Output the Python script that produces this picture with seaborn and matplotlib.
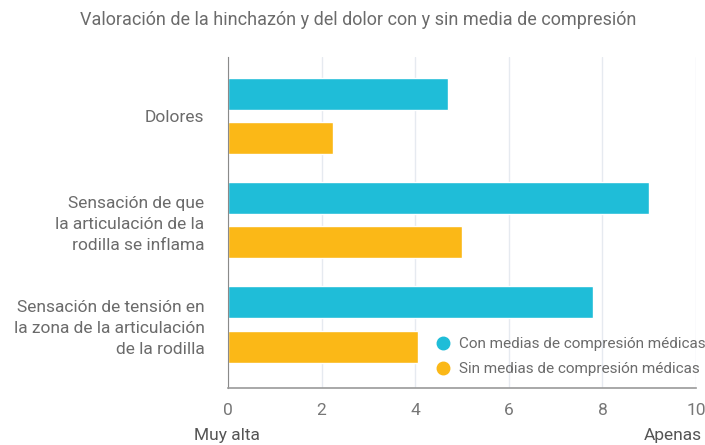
import pandas as pd
import matplotlib.pyplot as plt
import seaborn as sns

# Data
categories = [
    'Dolores',
    'Sensación de que\nla articulación de la\nrodilla se inflama',
    'Sensación de tensión en\nla zona de la articulación\nde la rodilla',
]
series_names = ['Con medias de compresión médicas', 'Sin medias de compresión médicas']
con_medias = [4.7, 9.0, 7.8]
sin_medias = [2.25, 5.0, 4.05]
x_ticks = [0, 2, 4, 6, 8, 10]

df = pd.DataFrame({
    'categoria': categories * 2,
    'grupo': [series_names[0]] * 3 + [series_names[1]] * 3,
    'valor': con_medias + sin_medias,
})

sns.set_style('white')
plt.rcParams['font.family'] = ['Roboto', 'DejaVu Sans']
text_col = '#6b6b6b'

fig = plt.figure(figsize=(7.05, 4.45), dpi=100)
ax = fig.add_axes([0.3234, 0.128, 0.664, 0.744])

palette = {series_names[0]: '#1fbdd8', series_names[1]: '#fbb817'}
sns.barplot(data=df, y='categoria', x='valor', hue='grupo', palette=palette,
            orient='h', width=0.85, gap=0.275, saturation=1, ax=ax)

ax.set_xlim(0, 10)
ax.set_ylim(2.61, -0.567)
ax.set_xticks(x_ticks)
ax.set_xticklabels([str(t) for t in x_ticks])
ax.xaxis.grid(True, color='#e6eaf0', linewidth=1)
ax.set_axisbelow(True)
ax.set_xlabel('')
ax.set_ylabel('')
ax.tick_params(axis='x', length=0, pad=11, labelsize=12.5, labelcolor='#777777')
ax.tick_params(axis='y', length=0, pad=17, labelsize=12.5, labelcolor=text_col)
for lbl in ax.get_yticklabels():
    lbl.set_horizontalalignment('right')
    lbl.set_linespacing(1.5)

sns.despine(ax=ax, top=True, right=True)
ax.spines['left'].set_color('#8a8a8a')
ax.spines['bottom'].set_color('#9a9a9a')
ax.spines['bottom'].set_linewidth(1.2)

handles = [plt.Line2D([], [], marker='o', linestyle='', markersize=9,
                      color=palette[n]) for n in series_names]
leg = ax.legend(handles, series_names, loc='lower right', frameon=False,
                bbox_to_anchor=(1.05, -0.005), handletextpad=0.05,
                labelspacing=0.72, fontsize=11, labelcolor=text_col)

fig.text(0.508, 0.955, 'Valoración de la hinchazón y del dolor con y sin media de compresión',
         ha='center', va='center', fontsize=13, color=text_col)
fig.text(0.322, 0.022, 'Muy alta', ha='center', va='center', fontsize=12.5, color='#555555')
fig.text(0.995, 0.022, 'Apenas', ha='right', va='center', fontsize=12.5, color='#555555')

fig.savefig('out.png', dpi=100)
